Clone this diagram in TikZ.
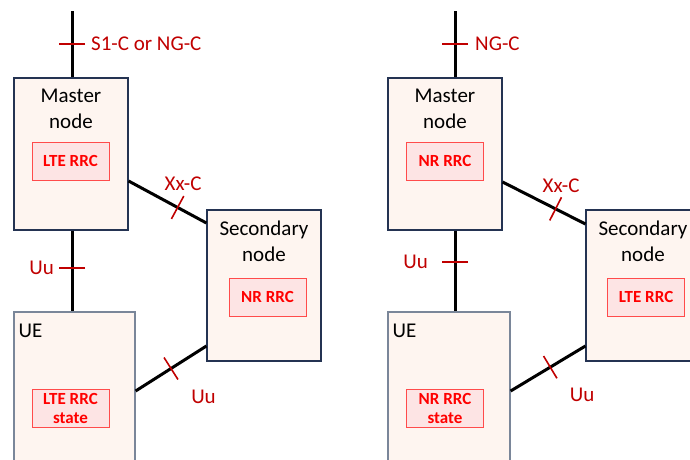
\documentclass[tikz,border=0pt]{standalone}
\usepackage{fontspec}
\setmainfont{Carlito}
\usepackage{tikz}
\usetikzlibrary{positioning}

\definecolor{boxfill}{HTML}{FEF5F0}
\definecolor{boxline}{HTML}{243352}
\definecolor{ueline}{HTML}{7A8699}
\definecolor{rrcfill}{HTML}{FDE4E4}
\definecolor{rrcline}{HTML}{FF4B4B}
\definecolor{rrctext}{HTML}{FF0000}
\definecolor{ifred}{HTML}{C00000}

\begin{document}
\begin{tikzpicture}[x=1pt, y=-1pt,
    entity/.style={
        rectangle, draw=boxline, fill=boxfill,
        line width=1.2pt, inner sep=0pt
    },
    heading/.style={font=\fontsize{21}{26}\selectfont, align=center, inner sep=0pt},
    rrc/.style={
        rectangle, draw=rrcline, fill=rrcfill, line width=1pt,
        minimum width=77pt, minimum height=38pt,
        font=\fontsize{17}{19}\selectfont\bfseries, text=rrctext,
        align=center, inner sep=0pt
    },
    wire/.style={line width=3pt, black},
    ifmark/.style={
        rectangle, minimum width=0pt, minimum height=26pt,
        inner sep=0pt, outer sep=0pt
    },
    ifline/.style={draw=ifred, line width=1.6pt},
    iface/.style={font=\fontsize{21}{26}\selectfont, text=ifred, inner sep=0pt},
]

\path[use as bounding box, clip] (0,0) rectangle (690,459);

%% Pannello sinistro
% Nodi
\node[entity, minimum width=114pt, minimum height=152pt] (masterL) at (71,154) {};
\node[entity, minimum width=114pt, minimum height=151pt] (secL)    at (264,285.5) {};
\node[entity, draw=ueline, minimum width=121pt, minimum height=158pt] (ueL) at (74.5,391) {};

\node[heading, anchor=north] at ([yshift=-11pt]masterL.north) {Master\\node};
\node[heading, anchor=north] at ([yshift=-11pt]secL.north) {Secondary\\node};
\node[heading, anchor=north west] at ([xshift=5pt,yshift=-12pt]ueL.north west) {UE};

\node[rrc] (rrcML) at (70.5,161) {LTE RRC};
\node[rrc] (rrcSL) at (267.5,297) {NR RRC};
\node[rrc] (rrcUL) at (70.5,408) {LTE RRC\\state};

% Collegamenti
\coordinate (coreL) at (72,11);
\draw[wire] (coreL) -- node[ifmark, sloped, pos=.5] (s1L) {} (coreL |- masterL.north);
\draw[wire] (masterL.south -| coreL) -- node[ifmark, sloped, pos=.46] (uuL) {} (ueL.north -| coreL);
\draw[wire] ([yshift=-27pt]masterL.east) -- node[ifmark, sloped, pos=.63] (xxL) {} ([yshift=62.5pt]secL.west);
\draw[wire] (ueL.east) -- node[ifmark, sloped, pos=.5] (usL) {} ([yshift=-60.5pt]secL.west);

% Tacche
\foreach \m in {s1L, uuL, xxL, usL}
    \draw[ifline] (\m.north) -- (\m.south);

% Etichette interfacce
\node[iface, anchor=west] at ([xshift=19pt]s1L.center) {S1-C or NG-C};
\node[iface, anchor=east] at ([xshift=-18pt]uuL.center) {Uu};
\node[iface] at ([xshift=5.5pt,yshift=23.5pt]xxL.center) {Xx-C};
\node[iface] at ([xshift=32.5pt,yshift=-28.5pt]usL.center) {Uu};

%% Pannello destro
% Nodi
\node[entity, minimum width=114pt, minimum height=152pt] (masterR) at (445,154) {};
\node[entity, minimum width=114pt, minimum height=151pt] (secR)    at (643,285.5) {};
\node[entity, draw=ueline, minimum width=122pt, minimum height=158pt] (ueR) at (449,391) {};

\node[heading, anchor=north] at ([yshift=-11pt]masterR.north) {Master\\node};
\node[heading, anchor=north] at ([yshift=-11pt]secR.north) {Secondary\\node};
\node[heading, anchor=north west] at ([xshift=5pt,yshift=-12pt]ueR.north west) {UE};

\node[rrc] (rrcMR) at (445,161) {NR RRC};
\node[rrc] (rrcSR) at (646,297) {LTE RRC};
\node[rrc] (rrcUR) at (445,408) {NR RRC\\state};

% Collegamenti
\coordinate (coreR) at (455,11);
\draw[wire] (coreR) -- node[ifmark, sloped, pos=.5] (ngR) {} (coreR |- masterR.north);
\draw[wire] (masterR.south -| coreR) -- node[ifmark, sloped, pos=.39] (uuR) {} (ueR.north -| coreR);
\draw[wire] ([yshift=-28pt]masterR.east) -- node[ifmark, sloped, pos=.64] (xxR) {} ([yshift=61.5pt]secR.west);
\draw[wire] (ueR.east) -- node[ifmark, sloped, pos=.53] (usR) {} ([yshift=-60.5pt]secR.west);

% Tacche
\foreach \m in {ngR, uuR, xxR, usR}
    \draw[ifline] (\m.north) -- (\m.south);

% Etichette interfacce
\node[iface, anchor=west] at ([xshift=20pt]ngR.center) {NG-C};
\node[iface, anchor=east] at ([xshift=-27pt]uuR.center) {Uu};
\node[iface] at ([xshift=5.5pt,yshift=23.5pt]xxR.center) {Xx-C};
\node[iface] at ([xshift=32pt,yshift=-28pt]usR.center) {Uu};

\end{tikzpicture}
\end{document}
